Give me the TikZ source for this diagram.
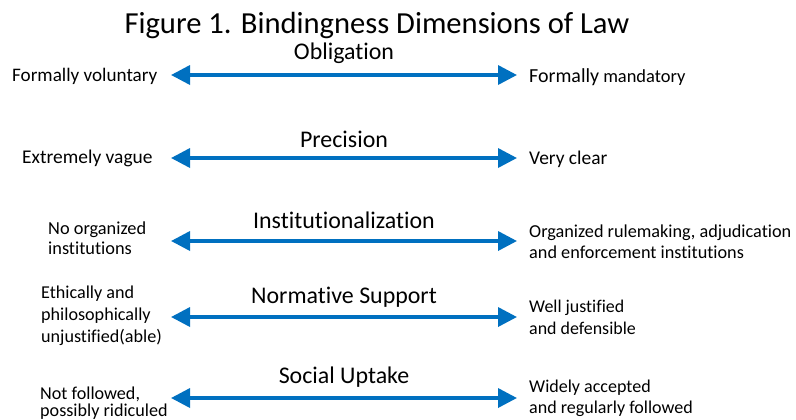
\documentclass[tikz,border=0pt]{standalone}
\usepackage{fontspec}
\setmainfont{Carlito}[Ligatures=NoCommon]
\usetikzlibrary{arrows.meta}
\definecolor{pBlue}{RGB}{0,112,192}

\begin{document}
\begin{tikzpicture}[x=1bp, y=-1bp,
    dimarrow/.style={draw=pBlue, line width=3.5bp,
      {Triangle[length=19bp, width=19bp]}-{Triangle[length=19bp, width=19bp]}},
    dimlabel/.style={anchor=base, inner sep=0pt, font=\fontsize{24}{28}\selectfont},
    endlabel/.style={anchor=base west, inner sep=0pt, align=left,
      font=\fontsize{18.2}{21}\selectfont}]

  \useasboundingbox (0,0) rectangle (796,419);

  % Title
  \node[anchor=base, inner sep=0pt, font=\fontsize{30.7}{36}\selectfont] (title)
    at (377,33) {Figure 1. Bindingness Dimensions of Law};

  % Double arrows with the dimension names above them
  \foreach \n/\y/\b/\t in {obl/75/59/Obligation, pre/158/147/Precision,
      ins/241/228/Institutionalization, nor/317/303/Normative Support,
      soc/398/383/Social Uptake} {
    \coordinate (\n L) at (171,\y);
    \coordinate (\n R) at (517,\y);
    \draw[dimarrow] (\n L) -- (\n R);
    \node[dimlabel] (\n) at (344,\b) {\t};
  }

  % Left ends (base = last line)
  \node[endlabel, font=\fontsize{19.2}{22}\selectfont] (oblLow) at (12,81)
    {Formally voluntary};
  \node[endlabel, font=\fontsize{19.5}{22}\selectfont] (preLow) at (22,163)
    {Extremely vague};
  \node[endlabel, font=\fontsize{18.4}{20}\selectfont] (insLow) at (48,254)
    {No organized\\institutions};
  \node[endlabel, font=\fontsize{18.2}{21.7}\selectfont] (norLow) at (41,342)
    {Ethically and\\philosophically\\unjustified(able)};
  \node[endlabel, font=\fontsize{18.2}{17}\selectfont] (socLow) at (40,416)
    {Not followed,\\possibly ridiculed};

  % Right ends
  \node[endlabel] (oblHigh) at (529,82)
    {{\fontsize{20}{24}\selectfont Formally} {\fontsize{18.5}{22}\selectfont mandatory}};
  \node[endlabel, font=\fontsize{19.5}{22}\selectfont] (preHigh) at (529,164)
    {Very clear};
  \node[endlabel, font=\fontsize{18.3}{21}\selectfont] (insHigh) at (529,258)
    {Organized rulemaking, adjudication\\and enforcement institutions};
  \node[endlabel, font=\fontsize{18}{21.3}\selectfont] (norHigh) at (529,334)
    {Well justified\\and defensible};
  \node[endlabel, font=\fontsize{18.1}{20.6}\selectfont] (socHigh) at (529,413)
    {Widely accepted\\and regularly followed};

\end{tikzpicture}
\end{document}
